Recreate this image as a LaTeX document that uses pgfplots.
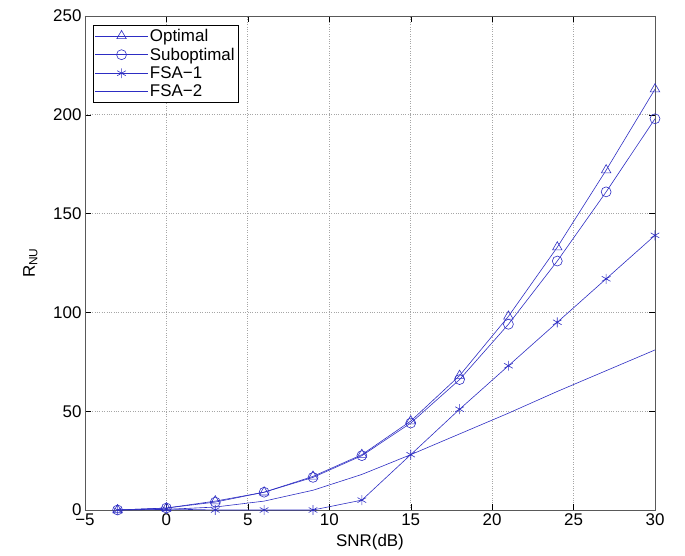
\documentclass[border=0pt]{standalone}
\usepackage{pgfplots}
\pgfplotsset{compat=1.18}
\usepackage{fontspec}
\setmainfont{Liberation Sans}
\definecolor{mblue}{RGB}{45,45,195}
\newcommand{\bigf}{\fontsize{17}{19}\selectfont}
\begin{document}
\begin{tikzpicture}
\begin{axis}[
  width=570bp, height=494bp,
  scale only axis,
  xmin=-5, xmax=30, ymin=0, ymax=250,
  xtick={-5,0,...,30}, ytick={0,50,...,250},
  xticklabels={\textminus5,0,5,10,15,20,25,30},
  grid=major,
  grid style={dotted, gray!70, line width=0.8pt},
  tick align=inside,
  major tick length=6pt,
  tick style={black},
  axis line style={gray!70!black},
  xlabel={SNR(dB)}, ylabel={R$_{\mathrm{NU}}$},
  xlabel style={at={(axis description cs:0.5,-0.042)}, anchor=north},
  ylabel style={at={(axis description cs:-0.077,0.5)}, anchor=south},
  ticklabel style={font=\bigf},
  label style={font=\bigf},
  /pgf/number format/assume math mode=true,
  legend style={at={(0.014,0.982)}, anchor=north west, font=\bigf,
    draw=black, inner sep=2pt, row sep=1pt},
  legend cell align=left,
  legend image code/.code={
    \draw[mark repeat=2,mark phase=2] plot coordinates {(0cm,0cm) (0.92cm,0cm) (1.84cm,0cm)};},
  every axis plot/.append style={mblue, semithick},
]
\addplot[mark=triangle, mark size=5.5pt] coordinates {
  (-3,0) (0,1) (3,4.5) (6,9) (9,17) (12,28) (15,45) (18,68) (21,98) (24,133) (27,172) (30,213)};
\addlegendentry{Optimal}
\addplot[mark=o, mark size=5pt] coordinates {
  (-3,0) (0,1) (3,4) (6,9) (9,16.5) (12,27.5) (15,44) (18,66) (21,94) (24,126) (27,161) (30,198)};
\addlegendentry{Suboptimal}
\addplot[mark=asterisk, mark size=5pt] coordinates {
  (-3,0) (0,0.5) (3,0) (6,0) (9,0) (12,5) (15,28) (18,51) (21,73) (24,95) (27,117) (30,139)};
\addlegendentry{FSA\textminus1}
\addplot[no marks] coordinates {
  (-3,0) (0,0.3) (3,1.5) (6,4.5) (9,10) (12,18) (15,28) (18,38.5) (21,49) (24,60) (27,70.5) (30,81)};
\addlegendentry{FSA\textminus2}
\end{axis}
% keep the margins of the reference
\path (current axis.south west) ++(-85bp,-46bp);
\path (current axis.north east) ++(30bp,16bp);
\end{tikzpicture}
\end{document}
